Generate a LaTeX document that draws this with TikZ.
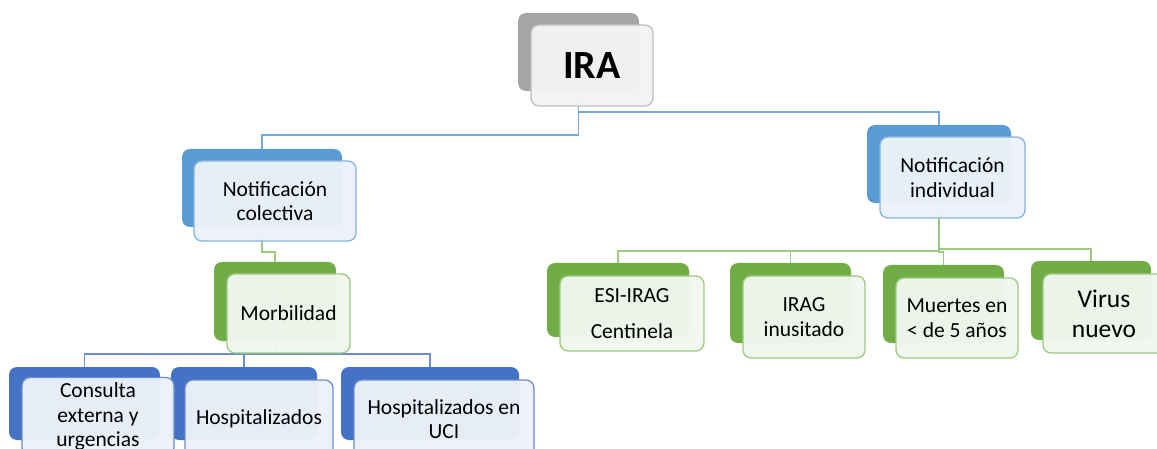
\documentclass[tikz,border=0pt]{standalone}
\usepackage{fontspec}
\setmainfont{Carlito}
\usepackage{tikz}
\usetikzlibrary{calc,positioning}

\definecolor{grayback}{HTML}{A6A6A6}
\definecolor{grayfront}{HTML}{F3F3F3}
\definecolor{grayedge}{HTML}{BDBDBD}
\definecolor{blueback}{HTML}{5B9BD5}
\definecolor{bluefront}{HTML}{EBF1FA}
\definecolor{blueedge}{HTML}{84B3E2}
\definecolor{dblueback}{HTML}{4472C4}
\definecolor{dbluefront}{HTML}{EDF1F9}
\definecolor{dblueedge}{HTML}{6A8ED0}
\definecolor{greenback}{HTML}{70AD47}
\definecolor{greenfront}{HTML}{F1F6EE}
\definecolor{greenedge}{HTML}{9CCB7D}

\tikzset{
  backbox/.style 2 args={rounded corners=8pt, minimum width=#1, minimum height=#2, inner sep=0pt},
  frontbox/.style 2 args={rounded corners=8pt, minimum width=#1, minimum height=#2, inner sep=0pt,
    line width=1.3pt, fill opacity=0.97, text opacity=1, align=center,
    font=\fontsize{21.5}{24.5}\selectfont},
  lineblue/.style={draw=blueback!85, line width=1.8pt},
  linedblue/.style={draw=dblueedge, line width=1.8pt},
  linegreen/.style={draw=greenedge, line width=1.8pt}
}

\begin{document}
\begin{tikzpicture}[x=1pt,y=-1pt]
\useasboundingbox (0,0) rectangle (1157,449);
% back boxes
\node [backbox={121}{78}, fill=grayback] (iraB) at (578.5,52) {};
\node [backbox={160}{78}, fill=blueback] (colB) at (262,188) {};
\node [backbox={122}{79}, fill=greenback] (morB) at (275,301.5) {};
\node [backbox={151}{73}, fill=dblueback] (conB) at (84.5,403.5) {};
\node [backbox={146}{73}, fill=dblueback] (hosB) at (244,403.5) {};
\node [backbox={178}{73}, fill=dblueback] (uciB) at (430,403.5) {};
\node [backbox={144}{78}, fill=blueback] (indB) at (939,164) {};
\node [backbox={142}{74}, fill=greenback] (esiB) at (618,300) {};
\node [backbox={121}{80}, fill=greenback] (iragB) at (790.5,303) {};
\node [backbox={121}{78}, fill=greenback] (muerB) at (943.5,304) {};
\node [backbox={120}{79}, fill=greenback] (virB) at (1091,300.5) {};
% connectors
\draw [lineblue] (iraB.center) |- ($ (colB.north)+(0,-14) $) -- (colB.north);
\draw [lineblue] (iraB.center) |- ($ (indB.north)+(0,-13) $) -- (indB.north);
\draw [linegreen] (colB.center) |- ($ (morB.north)+(0,-10) $) -- (morB.north);
\draw [linedblue] (morB.center) |- ($ (conB.north)+(0,-13) $) -- (conB.north);
\draw [linedblue] (morB.center) |- ($ (hosB.north)+(0,-13) $) -- (hosB.north);
\draw [linedblue] (morB.center) |- ($ (uciB.north)+(0,-13) $) -- (uciB.north);
\draw [linegreen] (indB.center) |- ($ (esiB.north)+(0,-12) $) -- (esiB.north);
\draw [linegreen] (indB.center) |- ($ (iragB.north)+(0,-12) $) -- (iragB.north);
\draw [linegreen] (indB.center) |- ($ (muerB.north)+(0,-13) $) -- (muerB.north);
\draw [linegreen] (indB.center) |- ($ (virB.north)+(0,-12) $) -- (virB.north);
% front boxes
\node [frontbox={122}{81}, draw=grayedge, fill=grayfront, font=\fontsize{40}{44}\selectfont\bfseries] (ira) at (592,65.5) {IRA};
\node [frontbox={162}{80}, draw=blueedge, fill=bluefront] (col) at (275,201) {Notificación\\colectiva};
\node [frontbox={123}{79}, draw=greenedge, fill=greenfront] (mor) at (288.5,313.5) {Morbilidad};
\node [frontbox={152}{78}, draw=dblueedge, fill=dbluefront] (con) at (98,416.5) {Consulta\\externa y\\urgencias};
\node [frontbox={148}{78}, draw=dblueedge, fill=dbluefront] (hos) at (259,419) {Hospitalizados};
\node [frontbox={180}{78}, draw=dblueedge, fill=dbluefront] (uci) at (444,419) {Hospitalizados en\\UCI};
\node [frontbox={145}{81}, draw=blueedge, fill=bluefront] (ind) at (952.5,177.5) {Notificación\\individual};
\node [frontbox={144}{75}, draw=greenedge, fill=greenfront] (esi) at (632,313.5) {ESI-IRAG\\[11pt]Centinela};
\node [frontbox={122}{82}, draw=greenedge, fill=greenfront] (irag) at (804,317) {IRAG\\inusitado};
\node [frontbox={122}{80}, draw=greenedge, fill=greenfront] (muer) at (957,318) {Muertes en\\< de 5 años};
\node [frontbox={122}{79}, draw=greenedge, fill=greenfront, font=\fontsize{25.5}{30}\selectfont] (vir) at (1104,313.5) {Virus\\nuevo};
\end{tikzpicture}
\end{document}
